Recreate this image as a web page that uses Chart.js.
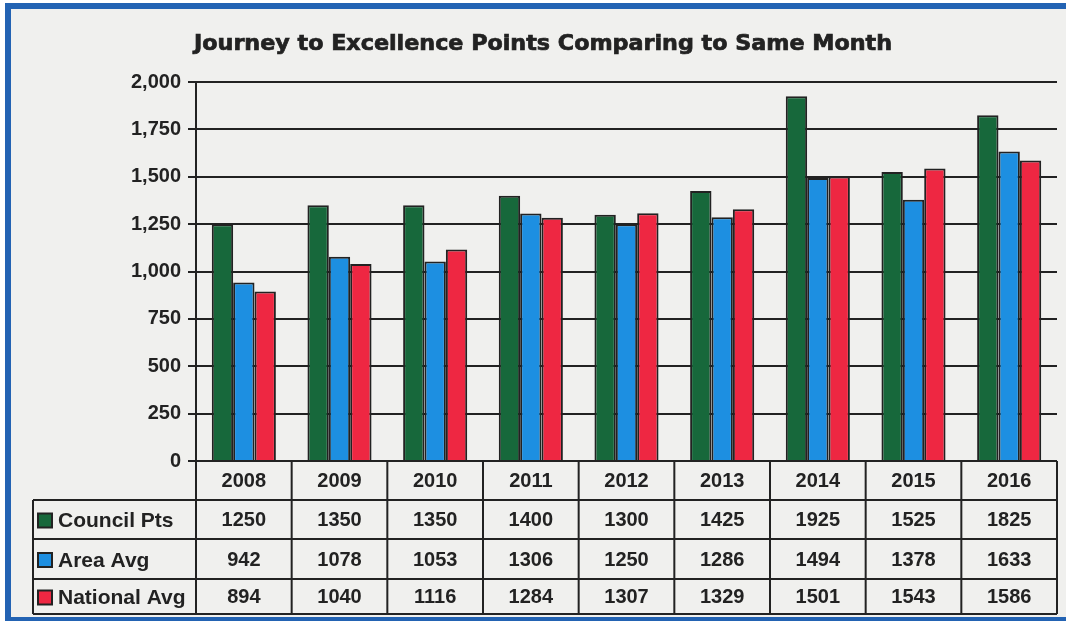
<!DOCTYPE html>
<html lang="en">
<head>
    <meta charset="UTF-8">
    <title>Journey to Excellence Points</title>
    <script src="https://cdn.jsdelivr.net/npm/chart.js"></script>
    <style>
        body { margin: 0; background: #ffffff; }
        #marco {
            position: absolute; left: 5px; top: 3px; width: 1070px; height: 608px;
            border-left: 6px solid #2363b3; border-top: 6px solid #2363b3; border-bottom: 4px solid #2363b3;
            background: #f0f0ee;
        }
        #lienzo { position: absolute; left: 0; top: 0; }
    </style>
</head>
<body>
    <div id="marco"></div>
    <canvas id="lienzo" width="1066" height="621"></canvas>
    <script>
        var years = ['2008', '2009', '2010', '2011', '2012', '2013', '2014', '2015', '2016'];
        var councilPts = [1250, 1350, 1350, 1400, 1300, 1425, 1925, 1525, 1825];
        var areaAvg = [942, 1078, 1053, 1306, 1250, 1286, 1494, 1378, 1633];
        var nationalAvg = [894, 1040, 1116, 1284, 1307, 1329, 1501, 1543, 1586];
        var seriesNames = ['Council Pts', 'Area Avg', 'National Avg'];
        var seriesColors = ['#17683b', '#1d8fe1', '#ee2742'];

        var ink = '#222222';
        var fuente = 'Liberation Sans, Arial, sans-serif';

        // plugin para dibujar la tabla de datos debajo del grafico
        var tablaDatos = {
            id: 'tablaDatos',
            afterDraw: function (chart) {
                var ctx = chart.ctx;
                var area = chart.chartArea;
                var n = years.length;
                var colW = (area.right - area.left) / n;
                var tableLeft = 33;
                var rowTops = [area.bottom, 500, 539, 579, 614];
                var series = [councilPts, areaAvg, nationalAvg];

                ctx.save();
                ctx.strokeStyle = ink;
                ctx.lineWidth = 2;
                ctx.beginPath();
                // lineas horizontales
                for (var r = 1; r < rowTops.length; r++) {
                    ctx.moveTo(tableLeft, rowTops[r]);
                    ctx.lineTo(area.right, rowTops[r]);
                }
                // lineas verticales
                for (var c = 0; c <= n; c++) {
                    var x = area.left + c * colW;
                    ctx.moveTo(x, area.bottom);
                    ctx.lineTo(x, 614);
                }
                ctx.moveTo(tableLeft, 500);
                ctx.lineTo(tableLeft, 614);
                ctx.stroke();

                ctx.fillStyle = ink;
                ctx.font = 'bold 20px ' + fuente;
                ctx.textAlign = 'center';
                ctx.textBaseline = 'middle';
                for (var i = 0; i < n; i++) {
                    var cx = chart.scales.x.getPixelForTick(i);
                    ctx.fillText(years[i], cx, (rowTops[0] + rowTops[1]) / 2 + 1);
                    for (var s = 0; s < series.length; s++) {
                        ctx.fillText(String(series[s][i]), cx, (rowTops[s + 1] + rowTops[s + 2]) / 2 + 1);
                    }
                }

                // leyenda dentro de la tabla
                ctx.textAlign = 'left';
                ctx.font = 'bold 21px ' + fuente;
                for (var k = 0; k < seriesNames.length; k++) {
                    var cy = (rowTops[k + 1] + rowTops[k + 2]) / 2 + 1;
                    ctx.fillStyle = seriesColors[k];
                    ctx.fillRect(38, cy - 7, 14, 14);
                    ctx.lineWidth = 2;
                    ctx.strokeRect(38, cy - 7, 14, 14);
                    ctx.fillStyle = ink;
                    ctx.fillText(seriesNames[k], 58, cy + 1);
                }
                ctx.restore();
            }
        };

        // titulo dibujado a mano, estirado al ancho del original
        var tituloPlugin = {
            id: 'titulo',
            afterDraw: function (chart) {
                var ctx = chart.ctx;
                var texto = 'Journey to Excellence Points Comparing to Same Month';
                ctx.save();
                ctx.fillStyle = ink;
                ctx.strokeStyle = ink;
                ctx.lineWidth = 0.7;
                ctx.font = 'bold 21px DejaVu Sans, sans-serif';
                ctx.textAlign = 'center';
                ctx.textBaseline = 'middle';
                var ancho = ctx.measureText(texto).width;
                var esc = 698 / ancho;
                ctx.translate(543, 45);
                ctx.scale(esc, 1);
                ctx.fillText(texto, 0, 0);
                ctx.strokeText(texto, 0, 0);
                ctx.restore();
            }
        };

        var ctxChart = document.getElementById('lienzo').getContext('2d');
        var grafico = new Chart(ctxChart, {
            type: 'bar',
            data: {
                labels: years,
                datasets: [councilPts, areaAvg, nationalAvg].map(function (vals, i) {
                    return {
                        label: seriesNames[i],
                        data: vals,
                        backgroundColor: seriesColors[i],
                        borderColor: ink,
                        borderWidth: 2,
                        barPercentage: 1,
                        categoryPercentage: 0.67
                    };
                })
            },
            options: {
                responsive: false,
                animation: false,
                layout: { padding: { top: 82, right: 9, bottom: 160, left: 0 } },
                plugins: {
                    legend: { display: false },
                    tooltip: { enabled: false },
                    title: { display: false }
                },
                scales: {
                    x: { display: false },
                    y: {
                        min: 0,
                        max: 2000,
                        afterFit: function (scale) { scale.width = 196; },
                        ticks: {
                            stepSize: 250,
                            color: ink,
                            padding: 7,
                            font: { family: fuente, size: 20, weight: 'bold' },
                            callback: function (v) { return v.toLocaleString('en-US'); }
                        },
                        grid: { color: ink, lineWidth: 2, tickLength: 8 },
                        border: { color: ink, width: 2 }
                    }
                }
            },
            plugins: [tablaDatos, tituloPlugin]
        });
    </script>
</body>
</html>
